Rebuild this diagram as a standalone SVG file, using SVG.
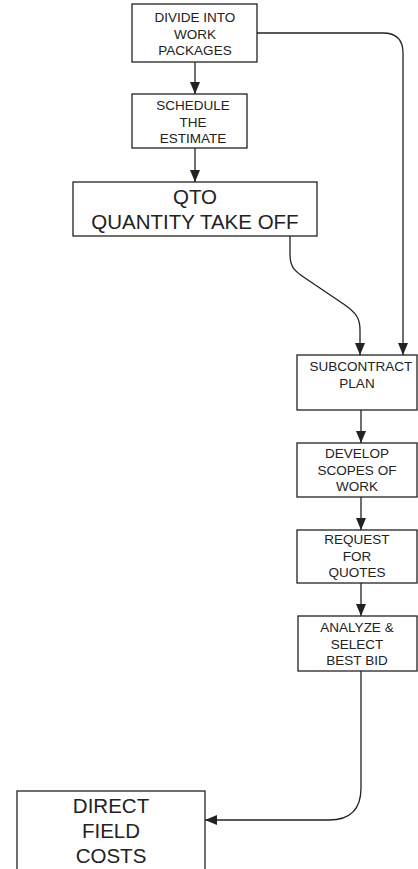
<svg xmlns="http://www.w3.org/2000/svg" width="418" height="869" viewBox="0 0 418 869">
<style>
.box{fill:#fff;stroke:#222;stroke-width:1.3}
.t{font-family:"Liberation Sans",Arial,sans-serif;font-size:13.5px;fill:#222;text-anchor:middle}
.big{font-size:20.5px}
.c{fill:none;stroke:#222;stroke-width:1.3}
</style>
<defs>
<marker id="ah" markerUnits="userSpaceOnUse" markerWidth="12" markerHeight="14" refX="12" refY="5" orient="auto">
<path d="M0,0 L12,5 L0,10 Z" fill="#222"/>
</marker>
</defs>
<rect width="418" height="869" fill="#fff"/>
<g id="connectors">
<path class="c" d="M195,62 L195,94" marker-end="url(#ah)"/>
<path class="c" d="M195,148 L195,182" marker-end="url(#ah)"/>
<path class="c" d="M257,33 L383,33 Q403,33 403,53 L403,355" marker-end="url(#ah)"/>
<path class="c" d="M290,236 L290,255 C290,268 296,272 305,278 L345,305 C356,313 360,318 360,330 L360,355" marker-end="url(#ah)"/>
<path class="c" d="M361,410 L361,443" marker-end="url(#ah)"/>
<path class="c" d="M361,497 L361,530" marker-end="url(#ah)"/>
<path class="c" d="M361,583 L361,616" marker-end="url(#ah)"/>
<path class="c" d="M361,671 L361,788 Q361,820 329,820 L205,820" marker-end="url(#ah)"/>
</g>
<g id="n1"><rect class="box" x="132" y="4" width="125" height="58"/>
<text class="t" x="195" y="22">DIVIDE INTO</text><text class="t" x="195" y="38.5">WORK</text><text class="t" x="195" y="55">PACKAGES</text></g>
<g id="n2"><rect class="box" x="132" y="94" width="115" height="54"/>
<text class="t" x="193" y="110">SCHEDULE</text><text class="t" x="193" y="126.5">THE</text><text class="t" x="193" y="143">ESTIMATE</text></g>
<g id="n3"><rect class="box" x="73" y="182" width="244" height="54"/>
<text class="t big" x="195" y="204">QTO</text><text class="t big" x="195" y="229">QUANTITY TAKE OFF</text></g>
<g id="n4"><rect class="box" x="297" y="355" width="120" height="55"/>
<text class="t" x="361" y="371">SUBCONTRACT</text><text class="t" x="357" y="388">PLAN</text></g>
<g id="n5"><rect class="box" x="297" y="443" width="120" height="54"/>
<text class="t" x="357" y="458">DEVELOP</text><text class="t" x="357" y="474.5">SCOPES OF</text><text class="t" x="357" y="491">WORK</text></g>
<g id="n6"><rect class="box" x="297" y="530" width="120" height="53"/>
<text class="t" x="357" y="544">REQUEST</text><text class="t" x="357" y="560.5">FOR</text><text class="t" x="357" y="577">QUOTES</text></g>
<g id="n7"><rect class="box" x="298" y="616" width="119" height="55"/>
<text class="t" x="357" y="632">ANALYZE &amp;</text><text class="t" x="357" y="648.5">SELECT</text><text class="t" x="357" y="665">BEST BID</text></g>
<g id="n8"><rect class="box" x="17" y="791" width="188" height="100"/>
<text class="t big" x="111" y="813">DIRECT</text><text class="t big" x="111" y="838">FIELD</text><text class="t big" x="111" y="863">COSTS</text></g>
</svg>
